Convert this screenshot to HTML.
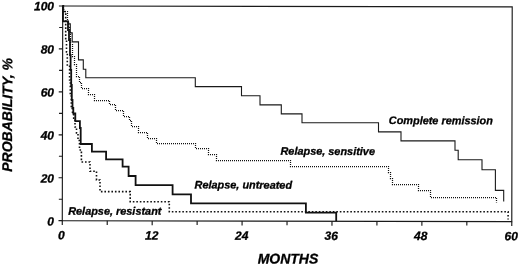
<!DOCTYPE html>
<html><head><meta charset="utf-8">
<style>
html,body{margin:0;padding:0;background:#fff;}
body{width:520px;height:266px;overflow:hidden;}
svg{display:block;will-change:transform;}
text{font-family:"Liberation Sans",sans-serif;font-weight:bold;font-style:italic;fill:#000;stroke:#000;stroke-width:0.3px;}
.tk{font-size:12px;stroke-width:0.1px;}
.lb{font-size:10.9px;}
.ti{font-size:14px;}
</style></head><body>
<svg width="520" height="266" viewBox="0 0 520 266">
<rect width="520" height="266" fill="#fff"/>
<g transform="rotate(0.115 287 113.5)">
<g stroke="#1a1a1a" stroke-width="1.15" fill="none">
<path d="M62.5,6.45H512.0V221.15H62.5Z"/>
<path d="M58.7,6.45H62.5M59,27.92H62.5M58.7,49.39H62.5M59,70.86H62.5M58.7,92.33H62.5M59,113.80H62.5M58.7,135.27H62.5M59,156.74H62.5M58.7,178.21H62.5M59,199.68H62.5M58.7,221.15H62.5"/>
<path d="M62.50,221.15V225.55M107.45,221.15V225.25M152.40,221.15V225.55M197.35,221.15V225.25M242.30,221.15V225.55M287.25,221.15V225.25M332.20,221.15V225.55M377.15,221.15V225.25M422.10,221.15V225.55M467.05,221.15V225.25M512.00,221.15V225.55"/>
</g>
<path id="cr" transform="translate(0,0.4)" fill="none" stroke="#1a1a1a" stroke-width="1.1" d="M62.28,6.45L62.68,6.45L62.71,21.45L68.31,21.44L68.32,23.94L70.12,23.94L70.14,32.94L72.04,32.93L72.06,41.93L78.36,41.92L78.39,59.92L83.19,59.91L83.21,69.21L85.71,69.20L85.73,77.70L195.23,77.48L195.25,86.38L241.45,86.29L241.46,95.39L259.96,95.35L259.98,104.55L281.28,104.51L281.30,113.51L302.00,113.47L302.02,122.27L378.52,122.12L378.54,131.32L401.04,131.27L401.05,140.27L455.05,140.16L455.07,149.46L458.27,149.46L458.29,158.96L482.09,158.91L482.11,168.91L495.51,168.88L495.55,189.58L503.85,189.56L503.88,200.56"/>
<path id="rr" fill="none" stroke="#111" stroke-width="1.6" stroke-dasharray="1.6,1.9" d="M62.28,6.45L63.28,6.45L63.30,11.95L65.50,11.94L65.55,40.44L66.35,40.44L66.38,52.44L67.18,52.44L67.20,65.44L69.50,65.44L69.53,80.44L70.23,80.44L70.26,95.43L71.26,95.43L71.29,108.43L72.49,108.43L72.50,114.43L73.70,114.43L73.71,120.43L75.01,120.43L75.03,127.43L76.53,127.42L76.54,133.42L78.04,133.42L78.05,140.92L79.55,140.92L79.57,150.42L81.47,150.41L81.50,162.41L90.10,162.40L90.12,171.70L96.62,171.68L96.63,180.38L100.13,180.38L100.16,191.98L130.36,191.91L130.38,202.01L169.48,201.94L169.50,211.94L508.30,211.26L508.31,219.06"/>
<path id="ru" fill="none" stroke="#111" stroke-width="1.8" d="M62.28,6.45L62.68,6.45L62.72,21.85L67.82,21.84L67.83,30.44L68.83,30.44L68.85,40.44L69.85,40.44L69.88,55.44L70.48,55.43L70.51,70.43L71.11,70.43L71.14,85.43L71.74,85.43L71.77,100.43L72.47,100.43L72.49,108.43L73.29,108.43L73.30,113.93L75.30,113.92L75.32,121.62L79.92,121.62L79.93,128.42L80.73,128.41L80.76,144.41L91.96,144.39L91.98,152.09L106.18,152.06L106.19,159.76L122.69,159.73L122.71,167.03L128.71,167.02L128.73,176.32L135.73,176.30L135.74,185.50L172.74,185.43L172.76,194.53L191.16,194.49L191.18,203.49L306.08,203.26L306.10,212.56L336.40,212.50L336.42,220.90"/>
<g class="tk" text-anchor="end">
<text x="53.79" y="10.77">100</text>
<text x="53.88" y="54.07">80</text>
<text x="53.97" y="97.07">60</text>
<text x="54.05" y="140.07">40</text>
<text x="54.14" y="183.07">20</text>
<text x="54.23" y="226.07">0</text>
</g>
<g class="tk" text-anchor="middle">
<text x="61.5" y="239.8">0</text>
<text x="152" y="239.8">12</text>
<text x="242" y="239.8">24</text>
<text x="331.5" y="239.8">36</text>
<text x="420.9" y="239.8">48</text>
<text x="511.5" y="239.8">60</text>
</g>
<g class="lb">
<text x="388.82" y="123.90">Complete remission</text>
<text x="280.58" y="154.81">Relapse, sensitive</text>
<text x="194.75" y="188.69">Relapse, untreated</text>
<text x="68.40" y="215.14">Relapse, resistant</text>
</g>
<text class="ti" x="288.30" y="263.50" text-anchor="middle">MONTHS</text>
<text class="ti" transform="translate(12.1,115.4) rotate(-90)" text-anchor="middle">PROBABILITY, %</text>
</g>
<path id="rs" fill="none" stroke="#111" stroke-width="1.25" stroke-dasharray="1,1" stroke-dashoffset="0.5" d="M62.5,6.5H63.5V11.5H67.5V21.5H68.5V26.5H69.5V32.5H70.5V38.5H70.5V44.5H72.5V50.5H72.5V56.5H74.5V64.5H76.5V76.5H79.5V82.5H81.5V88.5H88.5V94.5H94.5V100.5H109.5V104.5H115.5V110.5H123.5V116.5H129.5V120.5H131.5V126.5H138.5V132.5H147.5V138.5H156.5V143.5H195.5V148.5H208.5V154.5H216.5V160.5H290.5V166.5H388.5V172.5H390.5V178.5H392.5V184.5H418.5V190.5H430.5V197.5H496.5V202.5"/>
</svg>
</body></html>
